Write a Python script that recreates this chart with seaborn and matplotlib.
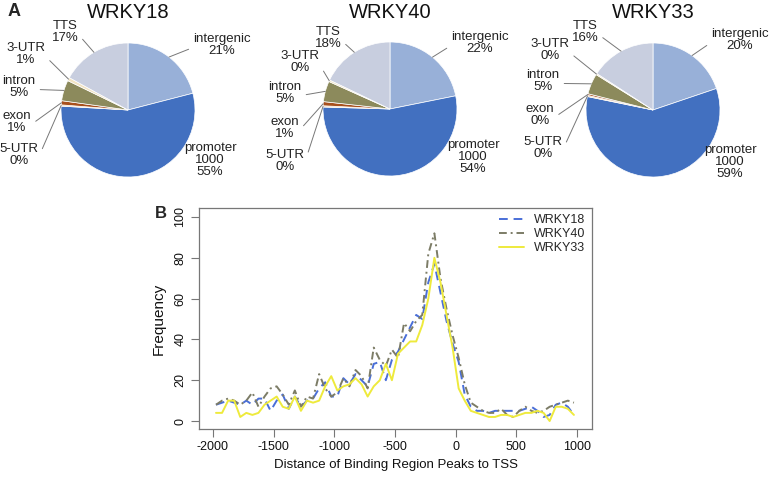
import seaborn as sns
import matplotlib.pyplot as plt
import pandas as pd
import numpy as np

sns.set_theme(style='white')
plt.rcParams['font.family'] = ['Liberation Sans', 'DejaVu Sans']
plt.rcParams['axes.unicode_minus'] = False

# ---- data: pie charts (share of peaks per genomic feature, %) ----
features = ['intergenic', 'promoter', '5-UTR', 'exon', 'intron', '3-UTR', 'TTS']
factors = ['WRKY18', 'WRKY40', 'WRKY33']
share_wrky18 = [21, 55, 0.3, 1.0, 5, 0.8, 17]
share_wrky40 = [22, 54, 0.3, 1.0, 5, 0.4, 18]
share_wrky33 = [20, 59, 0.3, 0.4, 5, 0.3, 16]
promoter_count = 1000

# ---- data: distance histogram (bin centres, frequency) ----
bin_centres = np.arange(-1975, 1000, 50)
freq_wrky18 = [8, 9, 10, 9, 8, 10, 8, 11, 11, 5, 10, 13, 6, 12, 7, 10, 11, 16, 19, 12,
               12, 21, 18, 23, 20, 17, 28, 29, 20, 30, 34, 40, 46, 52, 50, 68, 77, 63, 49, 38,
               29, 13, 7, 5, 5, 4, 5, 5, 5, 5, 5, 6, 7, 5, 2, 3, 8, 9, 7, 3]
freq_wrky40 = [8, 10, 11, 10, 8, 10, 14, 7, 12, 16, 17, 13, 8, 15, 7, 12, 11, 23, 16, 12,
               14, 21, 17, 25, 22, 16, 36, 30, 27, 35, 31, 48, 44, 49, 52, 82, 92, 70, 55, 42,
               31, 18, 9, 7, 5, 4, 4, 6, 3, 2, 5, 7, 5, 4, 5, 7, 8, 9, 10, 9]
freq_wrky33 = [4, 4, 10, 10, 2, 4, 3, 4, 8, 10, 12, 7, 6, 12, 5, 10, 9, 10, 17, 22,
               15, 17, 18, 21, 18, 12, 17, 20, 28, 20, 33, 36, 39, 39, 47, 60, 80, 68, 52, 36,
               16, 10, 5, 4, 3, 2, 2, 3, 3, 2, 3, 4, 4, 5, 4, 0, 7, 7, 6, 3]

# ---- styling ----
W, H = 774, 480
pie_colors = ['#98B0D8', '#4270C0', '#F3C99A', '#A8501C', '#8C8A5C', '#F2E4C4', '#C8CEDF']
line_colors = {'WRKY18': '#4A6FD8', 'WRKY40': '#7C7C66', 'WRKY33': '#EEEA3C'}
line_dashes = {'WRKY18': (4.5, 3), 'WRKY40': (4, 2, 1, 2), 'WRKY33': ''}

# pie centres (px from top-left) and label offsets (px from centre)
pie_centres = [(128, 110), (390, 109), (653, 110)]
label_offsets = [
    [(94, -65), (82, 50), (-109, 45), (-111, 12), (-109, -23), (-102, -56), (-63, -78)],
    [(90, -66), (83, 48), (-105, 52), (-105, 19), (-105, -16), (-90, -47), (-62, -71)],
    [(87, -70), (77, 52), (-110, 38), (-113, 5), (-110, -29), (-103, -60), (-68, -78)],
]
R = 67.0  # pie radius in px

fig = plt.figure(figsize=(W / 100, H / 100), dpi=100)

shares = [share_wrky18, share_wrky40, share_wrky33]
for i, name in enumerate(factors):
    cx, cy = pie_centres[i]
    hw, hh = 135, 100
    ax = fig.add_axes([(cx - hw) / W, (H - cy - hh) / H, 2 * hw / W, 2 * hh / H])
    wedges, _ = ax.pie(shares[i], colors=pie_colors, startangle=90, counterclock=False,
                       radius=1.0, wedgeprops=dict(edgecolor='white', linewidth=0.5))
    ax.set_xlim(-hw / R, hw / R)
    ax.set_ylim(-hh / R, hh / R)
    ax.set_aspect('auto')
    ax.axis('off')
    for j, w in enumerate(wedges):
        pct = '%d%%' % round(shares[i][j])
        if features[j] == 'promoter':
            txt = '%s\n%d\n%s' % (features[j], promoter_count, pct)
        else:
            txt = '%s\n%s' % (features[j], pct)
        dx, dy = label_offsets[i][j]
        tx, ty = dx / R, -dy / R
        mid = np.deg2rad((w.theta1 + w.theta2) / 2)
        if features[j] == 'promoter':
            ax.text(tx, ty, txt, ha='center', va='center', fontsize=9.5,
                    linespacing=1.05, color='#222222')
        else:
            ax.annotate(txt, xy=(np.cos(mid), np.sin(mid)), xytext=(tx, ty),
                        ha='center', va='center', fontsize=9.5, linespacing=1.05,
                        color='#222222', annotation_clip=False,
                        arrowprops=dict(arrowstyle='-', color='#777777', lw=0.7,
                                        relpos=(0.0 if dx > 0 else 1.0, 0.4),
                                        shrinkA=1, shrinkB=0))
    fig.text(cx / W, 1 - 12 / H, name, ha='center', va='center', fontsize=14.5,
             color='#111111')

fig.text(8 / W, 1 - 12 / H, 'A', ha='left', va='center', fontsize=13, fontweight='bold')
fig.text(155 / W, 1 - 214 / H, 'B', ha='left', va='center', fontsize=12, fontweight='bold')

# ---- line chart ----
df = pd.concat([
    pd.DataFrame({'pos': bin_centres, 'freq': freq_wrky18, 'factor': 'WRKY18'}),
    pd.DataFrame({'pos': bin_centres, 'freq': freq_wrky40, 'factor': 'WRKY40'}),
    pd.DataFrame({'pos': bin_centres, 'freq': freq_wrky33, 'factor': 'WRKY33'}),
])

left, right, top, bottom = 199, 592, 208, 429
axl = fig.add_axes([left / W, (H - bottom) / H, (right - left) / W, (bottom - top) / H])
sns.lineplot(data=df, x='pos', y='freq', hue='factor', style='factor',
             palette=line_colors, dashes=line_dashes, linewidth=1.4, ax=axl)

leg = axl.get_legend()
handles = leg.legend_handles
labels = [t.get_text() for t in leg.texts]
leg.remove()
axl.legend(handles, labels, loc='upper right', bbox_to_anchor=(1.0, 1.0), frameon=False,
           fontsize=9, handlelength=2.0, labelspacing=0.15, handletextpad=0.8,
           borderaxespad=0.1)

axl.set_xlim(-2115, 1124)
axl.set_ylim(-3.9, 104.4)
axl.set_xticks([-2000, -1500, -1000, -500, 0, 500, 1000])
axl.set_yticks([0, 20, 40, 60, 80, 100])
for s in axl.spines.values():
    s.set_color('#777777')
    s.set_linewidth(0.9)
axl.tick_params(axis='both', direction='out', length=6, width=0.8, color='#777777',
                labelsize=9, labelcolor='#111111', bottom=True, left=True, pad=3)
plt.setp(axl.get_yticklabels(), rotation=90, va='center')
axl.set_xlabel('Distance of Binding Region Peaks to TSS', fontsize=9.5, color='#111111',
               labelpad=4)
axl.set_ylabel('Frequency', fontsize=11, color='#111111', labelpad=6)

fig.savefig('out.png', dpi=100)
